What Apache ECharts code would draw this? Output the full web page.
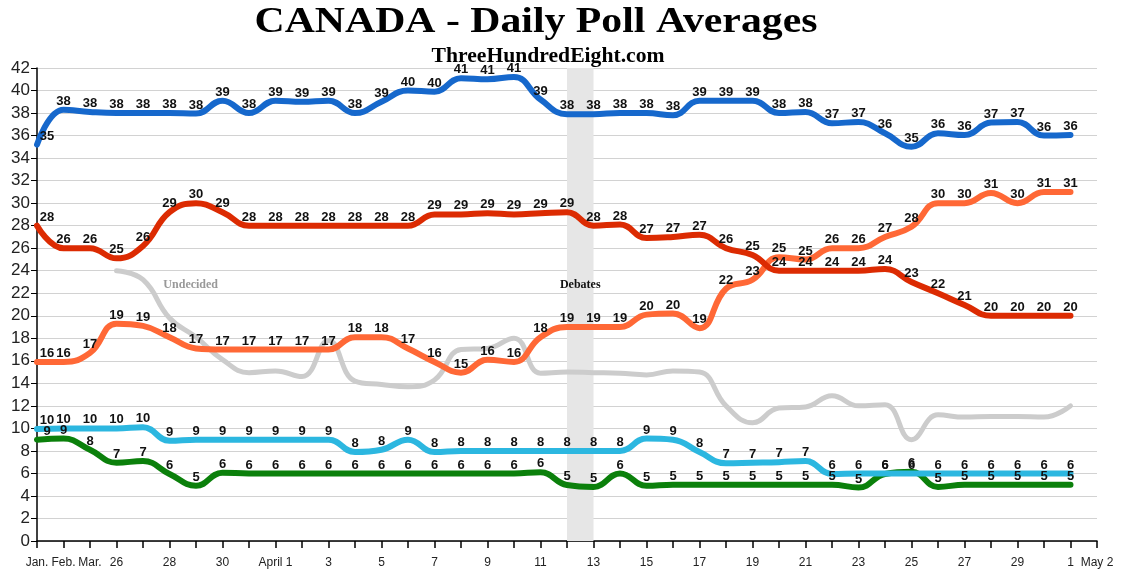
<!DOCTYPE html>
<html>
<head>
<meta charset="utf-8">
<title>CANADA - Daily Poll Averages</title>
<script src="https://cdn.jsdelivr.net/npm/echarts@6.0.0/dist/echarts.min.js"></script>
<style>
  html, body { margin: 0; padding: 0; background: #fff; }
  #main { width: 1125px; height: 571px; }
</style>
</head>
<body>
<div id="main"></div>
<script>
// x categories (one per day), only some are labelled
var days = ['Jan.', 'Feb.', 'Mar.', '26', '27', '28', '29', '30', '31',
  'April 1', '2', '3', '4', '5', '6', '7', '8', '9', '10', '11', '12', '13', '14', '15',
  '16', '17', '18', '19', '20', '21', '22', '23', '24', '25', '26', '27', '28', '29', '30',
  '1', 'May 2'];
var yTicks = {min: 0, max: 42, step: 2};

// party averages
var conservative = [35.2, 38.3, 38.1, 38.0, 38.0, 38.0, 37.95, 39.1, 38.0, 39.1, 39.0, 39.1, 38.0, 39.0, 40.0, 39.9, 41.1, 41.0, 41.2, 39.2,
  37.9, 37.9, 38.0, 38.0, 37.8, 39.1, 39.1, 39.1, 38.0, 38.1, 37.1, 37.2, 36.2, 35.0, 36.2, 36.05, 37.15, 37.2, 36.0, 36.05];
var liberal = [28.0, 26.0, 26.0, 25.1, 26.2, 29.2, 30.0, 29.2, 28.0, 28.0, 28.0, 28.0, 28.0, 28.0, 28.0, 29.0, 29.0, 29.1, 29.0, 29.1,
  29.2, 28.0, 28.1, 26.9, 27.0, 27.2, 26.0, 25.4, 24.0, 24.0, 24.0, 24.0, 24.15, 23.0, 22.0, 20.96, 20.0, 20.0, 20.0, 20.0];
var ndp = [15.9, 15.9, 16.7, 19.3, 19.1, 18.1, 17.1, 17.0, 17.0, 17.0, 17.0, 17.0, 18.1, 18.1, 17.1, 15.9, 14.95, 16.1, 15.9, 18.1,
  19.0, 19.0, 19.0, 20.1, 20.2, 18.9, 22.4, 23.2, 25.2, 25.0, 26.0, 26.0, 27.0, 27.9, 30.0, 30.0, 30.9, 30.0, 31.0, 31.0];
var bloc = [9.95, 10.0, 10.0, 10.0, 10.1, 8.9, 9.0, 9.0, 9.0, 9.0, 9.0, 9.0, 7.9, 8.1, 9.0, 7.9, 8.0, 8.0, 8.0, 8.0,
  8.0, 8.0, 8.0, 9.1, 9.0, 7.9, 6.9, 6.95, 7.0, 7.1, 5.95, 6.0, 6.0, 6.0, 6.0, 6.0, 6.0, 6.0, 6.0, 6.0];
var green = [9.0, 9.1, 8.1, 6.95, 7.1, 5.95, 4.9, 6.07, 6.0, 6.0, 6.0, 6.0, 6.0, 6.0, 6.0, 6.0, 6.0, 6.0, 6.0, 6.1,
  4.97, 4.8, 6.0, 4.9, 5.0, 5.0, 5.0, 5.0, 5.0, 5.0, 5.0, 4.75, 5.95, 6.15, 4.8, 5.0, 5.0, 5.0, 5.0, 5.0];
var undecided = [null, null, null, 24.0, 23.2, 19.8, 18.1, 16.1, 14.95, 15.1, 14.6, 17.8, 14.2, 13.9, 13.7, 14.3, 17.0, 17.1, 18.0, 14.9,
  15.0, 14.95, 14.9, 14.75, 15.1, 15.0, 12.0, 10.5, 11.8, 11.9, 12.9, 12.0, 12.1, 9.0, 11.2, 11.0, 11.05, 11.05, 11.0, 12.0];

var debateDays = [20, 21];   // April 12 - 13

var chart = echarts.init(document.getElementById('main'));

// first label sits a bit to the right of the axis
function withLabels(arr) {
    return arr.map(function (v, i) {
        return i === 0 ? {value: v, label: {offset: [10, 0]}} : v;
    });
}

function partyLine(name, arr, color) {
    return {
        name: name,
        type: 'line',
        data: withLabels(arr),
        smooth: 0.45,
        symbol: 'circle',
        symbolSize: 2,
        itemStyle: {color: 'rgba(0,0,0,0)'},
        lineStyle: {color: color, width: 6, cap: 'round', join: 'round'},
        label: {
            show: true,
            position: 'top',
            distance: 1,
            color: '#111',
            fontFamily: 'Liberation Sans, Arial, sans-serif',
            fontWeight: 'bold',
            fontSize: 13,
            formatter: function (p) { return Math.round(p.value); }
        },
        emphasis: {disabled: true},
        animation: false
    };
}

var option = {
    backgroundColor: '#fff',
    animation: false,
    grid: {left: 37, right: 28, top: 68, bottom: 30, containLabel: false},
    xAxis: {
        type: 'category',
        data: days,
        boundaryGap: false,
        axisLine: {lineStyle: {color: '#000', width: 1.5}},
        axisTick: {show: true, interval: 0, length: 7, lineStyle: {color: '#000', width: 1.5}},
        axisLabel: {
            interval: function (i) { return i < 3 || i % 2 === 1 || i === days.length - 1; },
            margin: 16,
            color: '#222',
            fontFamily: 'Liberation Sans, Arial, sans-serif',
            fontSize: 12
        },
        splitLine: {show: false}
    },
    yAxis: {
        type: 'value',
        min: yTicks.min, max: yTicks.max, interval: yTicks.step,
        axisLine: {show: true, lineStyle: {color: '#000', width: 1.5}},
        axisTick: {show: true, length: 6, lineStyle: {color: '#000'}},
        axisLabel: {
            color: '#222', margin: 7,
            fontFamily: 'Liberation Sans, Arial, sans-serif',
            fontSize: 17
        },
        splitLine: {lineStyle: {color: '#d2d2d2', width: 1.2}}
    },
    series: [
        {
            name: 'Undecided',
            type: 'line',
            data: undecided,
            smooth: 0.45,
            showSymbol: false,
            lineStyle: {color: '#cccccc', width: 5, cap: 'round'},
            markArea: {
                silent: true,
                itemStyle: {color: '#e6e6e6'},
                data: [[{xAxis: debateDays[0]}, {xAxis: debateDays[1]}]]
            },
            z: 1,
            animation: false
        },
        partyLine('Green', green, '#0b800b'),
        partyLine('Bloc', bloc, '#2cb7e0'),
        partyLine('NDP', ndp, '#ff6836'),
        partyLine('Liberal', liberal, '#dc2b02'),
        partyLine('Conservative', conservative, '#1668cc')
    ]
};

chart.setOption(option);

// annotation texts placed from the axes
var y23 = chart.convertToPixel({yAxisIndex: 0}, 22.7);
var debX = (chart.convertToPixel({xAxisIndex: 0}, debateDays[0]) + chart.convertToPixel({xAxisIndex: 0}, debateDays[1])) / 2;
var undX = chart.convertToPixel({xAxisIndex: 0}, 5) + 0.8 * (chart.convertToPixel({xAxisIndex: 0}, 6) - chart.convertToPixel({xAxisIndex: 0}, 5));

chart.setOption({
    graphic: [{
        // title: wide book face, so stretch the serif a little
        type: 'text', x: 536, y: 23, scaleX: 1.16, z: 60,
        style: {text: 'CANADA - Daily Poll Averages', textAlign: 'center', textVerticalAlign: 'middle',
            font: 'bold 36px "Liberation Serif", serif', fill: '#000'}
    }, {
        type: 'text', x: 548, y: 57, scaleX: 1.03, z: 60,
        style: {text: 'ThreeHundredEight.com', textAlign: 'center', textVerticalAlign: 'middle',
            font: 'bold 21px "Liberation Serif", serif', fill: '#000'}
    }, {
        type: 'text', x: debX, y: y23, z: 50,
        style: {text: 'Debates', textAlign: 'center', textVerticalAlign: 'middle',
            font: 'bold 12px "Liberation Serif", serif', fill: '#111'}
    }, {
        type: 'text', x: undX, y: y23, z: 50,
        style: {text: 'Undecided', textAlign: 'center', textVerticalAlign: 'middle',
            font: 'bold 12px "Liberation Serif", serif', fill: '#999'}
    }]
});
</script>
</body>
</html>
